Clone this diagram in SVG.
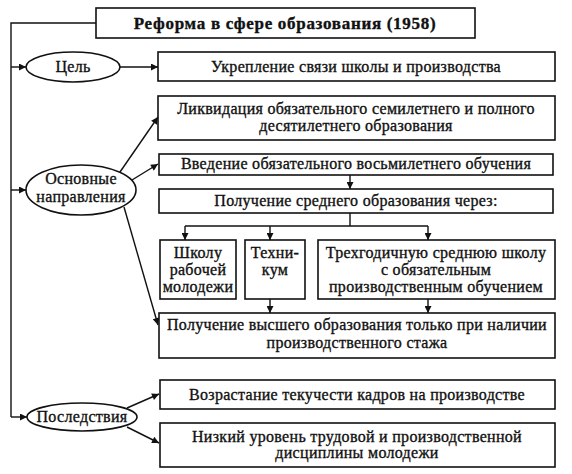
<svg xmlns="http://www.w3.org/2000/svg" width="572" height="474" viewBox="0 0 572 474">
<style>
.b{fill:#fff;stroke:#111;stroke-width:1.6}
.t{font-family:"Liberation Serif","Times New Roman",serif;font-size:16px;letter-spacing:0.3px;fill:#111;text-anchor:middle;stroke:#111;stroke-width:0.35}
.tb{font-weight:bold;font-size:17px;letter-spacing:0.7px}
.c{fill:none;stroke:#111;stroke-width:1.4}
</style>
<defs>
<marker id="a" viewBox="0 0 10 10" refX="10" refY="5" markerWidth="8" markerHeight="7" markerUnits="userSpaceOnUse" orient="auto">
<path d="M0,0 L10,5 L0,10 z" fill="#111"/>
</marker>
</defs>
<rect width="572" height="474" fill="#fff"/>
<g id="connectors">
<polyline class="c" points="96,23 11,23 11,417"/>
<line class="c" x1="11" y1="67" x2="26" y2="67" marker-end="url(#a)"/>
<line class="c" x1="11" y1="190" x2="26" y2="190" marker-end="url(#a)"/>
<line class="c" x1="11" y1="417" x2="27" y2="417" marker-end="url(#a)"/>
<line class="c" x1="120" y1="67" x2="158" y2="67" marker-end="url(#a)"/>
<line class="c" x1="120" y1="172" x2="158" y2="117" marker-end="url(#a)"/>
<line class="c" x1="132" y1="180" x2="158" y2="164" marker-end="url(#a)"/>
<line class="c" x1="124" y1="207" x2="158" y2="325" marker-end="url(#a)"/>
<line class="c" x1="350" y1="175" x2="350" y2="189" marker-end="url(#a)"/>
<polyline class="c" points="350,213 350,226"/>
<polyline class="c" points="185,226 428,226"/>
<line class="c" x1="185" y1="226" x2="185" y2="240" marker-end="url(#a)"/>
<line class="c" x1="270" y1="226" x2="270" y2="240" marker-end="url(#a)"/>
<line class="c" x1="428" y1="226" x2="428" y2="240" marker-end="url(#a)"/>
<line class="c" x1="270" y1="299" x2="270" y2="313" marker-end="url(#a)"/>
<line class="c" x1="428" y1="299" x2="428" y2="313" marker-end="url(#a)"/>
<line class="c" x1="127" y1="408" x2="159" y2="394" marker-end="url(#a)"/>
<line class="c" x1="127" y1="427" x2="159" y2="443" marker-end="url(#a)"/>
</g>
<g id="title"><rect class="b" x="96" y="8" width="379" height="30"/><text class="t tb" x="285" y="29">Реформа в сфере образования (1958)</text></g>
<g id="goal"><ellipse class="b" cx="73" cy="67" rx="47" ry="15"/><text class="t" x="73" y="72">Цель</text></g>
<g id="goal-box"><rect class="b" x="158" y="52" width="397" height="29"/><text class="t" x="356" y="72">Укрепление связи школы и производства</text></g>
<g id="directions"><ellipse class="b" cx="81" cy="190" rx="55" ry="25"/><text class="t" x="81" y="184">Основные</text><text class="t" x="81" y="202">направления</text></g>
<g id="box2"><rect class="b" x="158" y="96" width="397" height="44"/><text class="t" x="356" y="114">Ликвидация обязательного семилетнего и полного</text><text class="t" x="356" y="131">десятилетнего образования</text></g>
<g id="box3"><rect class="b" x="159" y="154" width="394" height="21"/><text class="t" x="356" y="169">Введение обязательного восьмилетнего обучения</text></g>
<g id="box4"><rect class="b" x="159" y="189" width="394" height="24"/><text class="t" x="356" y="206">Получение среднего образования через:</text></g>
<g id="school"><rect class="b" x="160" y="240" width="76" height="59"/><text class="t" x="198" y="258">Школу</text><text class="t" x="198" y="275">рабочей</text><text class="t" x="198" y="292">молодежи</text></g>
<g id="tech"><rect class="b" x="245" y="240" width="60" height="59"/><text class="t" x="275" y="258">Техни-</text><text class="t" x="275" y="275">кум</text></g>
<g id="three"><rect class="b" x="318" y="240" width="237" height="59"/><text class="t" x="436" y="258">Трехгодичную среднюю школу</text><text class="t" x="436" y="275">с обязательным</text><text class="t" x="436" y="292">производственным обучением</text></g>
<g id="box5"><rect class="b" x="159" y="313" width="396" height="45"/><text class="t" x="357" y="330">Получение высшего образования только при наличии</text><text class="t" x="357" y="348">производственного стажа</text></g>
<g id="consequences"><ellipse class="b" cx="82" cy="417" rx="55" ry="14"/><text class="t" x="82" y="422">Последствия</text></g>
<g id="box6"><rect class="b" x="160" y="380" width="395" height="29"/><text class="t" x="357" y="400">Возрастание текучести кадров на производстве</text></g>
<g id="box7"><rect class="b" x="160" y="423" width="395" height="44"/><text class="t" x="357" y="442">Низкий уровень трудовой и производственной</text><text class="t" x="357" y="458">дисциплины молодежи</text></g>
</svg>
